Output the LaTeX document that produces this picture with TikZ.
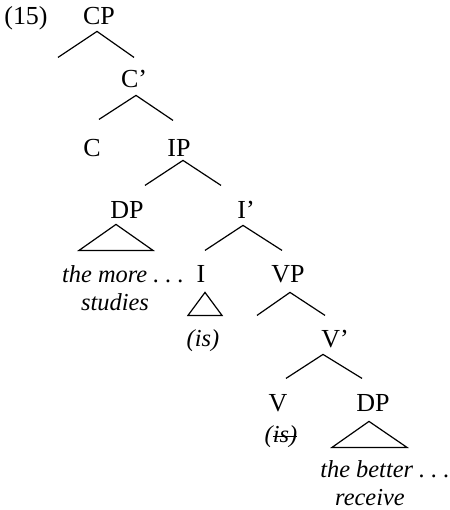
\documentclass[tikz,border=0pt]{standalone}
\usepackage{fontspec}
\setmainfont{Liberation Serif}
\usepackage{tikz}
\usetikzlibrary{positioning,calc}

\newcommand{\strikeword}[1]{\setbox0\hbox{#1}\rlap{\raisebox{0.45ex}{\rule{\wd0}{0.5pt}}}\box0}

\tikzset{
	cat/.style={anchor=base, inner xsep=1pt, inner ysep=3.5pt, text height=11.5pt, text depth=0pt},
	word/.style={anchor=base, inner sep=1pt, font=\fontsize{12.2}{14}\selectfont\itshape},
	branch/.style={line width=0.6pt},
	roof/.style={line width=0.6pt, line join=miter}
}

\begin{document}
\begin{tikzpicture}[x=0.5pt, y=-0.5pt, font=\fontsize{13}{15}\selectfont]
		\useasboundingbox (0,0) rectangle (450,510);

		\node[anchor=base, inner sep=0pt] (ex) at (26,24) {(15)};

		\node[cat] (cp) at (99,24) {CP};
		\node[cat] (cbar) at (134,87) {C'};
		\node[cat] (c) at (92,156) {C};
		\node[cat] (ip) at (179,156) {IP};
		\node[cat] (dpa) at (127,218) {DP};
		\node[cat] (ibar) at (246,218) {I'};
		\node[cat] (i) at (201,282) {I};
		\node[cat] (vp) at (288,282) {VP};
		\node[cat] (vbar) at (335,347) {V'};
		\node[cat] (v) at (278,411) {V};
		\node[cat] (dpb) at (373,411) {DP};

		\node[word] (more) at (123,282) {the more .~.~.};
		\node[word] (studies) at (115,310) {studies};
		\node[word] (isa) at (203,346) {(is)};
		\node[word] (isb) at (281,442) {(\strikeword{is)}};
		\node[word] (better) at (385,477) {the better .~.~.};
		\node[word] (receive) at (370,505) {receive};

		% branches
		\draw[branch] ($(cp.south)+(-41,26)$) -- ($(cp.south)+(-2,0)$) -- ++(37,26);
		\draw[branch] ($(cbar.south)+(-35,25)$) -- ($(cbar.south)+(2,1)$) -- ++(37,25);
		\draw[branch] ($(ip.south)+(-34,22)$) -- ($(ip.south)+(4,-3)$) -- ++(38,25);
		\draw[branch] ($(ibar.south)+(-41,25)$) -- ($(ibar.south)+(-3,0)$) -- ++(39,25);
		\draw[branch] ($(vp.south)+(-31,26)$) -- ($(vp.south)+(2,3)$) -- ++(35,23);
		\draw[branch] ($(vbar.south)+(-49,24)$) -- ($(vbar.south)+(-12,0)$) -- ++(39,24);

		% roofs
		\draw[roof] ($(dpa.south)+(-11,-1)$) -- ++(-37,26) -- ++(74,0) -- cycle;
		\draw[roof] ($(i.south)+(4,3)$) -- ++(-17,23) -- ++(34,0) -- cycle;
		\draw[roof] ($(dpb.south)+(-4,3)$) -- ++(-37,26) -- ++(75,0) -- cycle;
	\end{tikzpicture}
\end{document}
